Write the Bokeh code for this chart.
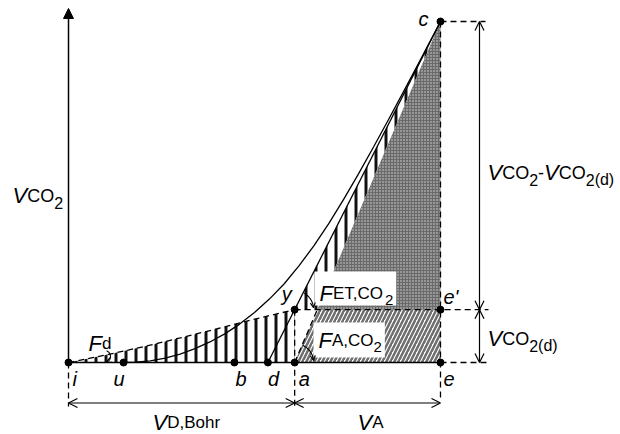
import numpy as np
from bokeh.plotting import figure
from bokeh.models import Range1d, Arrow, OpenHead, NormalHead
from bokeh.core.properties import value
from bokeh.embed import file_html
from bokeh.resources import INLINE

# ---- data (volume units on x, CO2 units on y) ----
pt_names = ["i", "u", "b", "d", "a", "e", "y", "e'", "c"]
pt_x = [0.0, 14.8, 44.6, 53.6, 60.8, 100.0, 60.8, 100.0, 100.0]
pt_y = [0.0, 0.0, 0.0, 0.0, 0.0, 0.0, 15.5, 15.5, 100.0]

# expired CO2 volume curve (from u to c)
co2_x = [14.8, 18, 22, 26, 30, 34, 38, 42, 46, 50, 54, 58, 62, 66, 70, 74, 78, 82, 86, 90, 94, 100]
co2_y = [0, 0.1, 0.49, 1.29, 2.47, 4.06, 6.03, 8.41, 11.27, 14.64, 18.6, 23.1, 28.4, 34.3, 40.8,
         47.9, 55.4, 63.2, 71.2, 79.3, 87.5, 100]

# dead-space CO2 curve (dashed, from i to y)
ds_x = [0, 10, 20, 30, 40, 50, 60.8]
ds_y = [0, 2.2, 4.6, 7.2, 9.9, 12.7, 15.5]

P = {n: (x, y) for n, x, y in zip(pt_names, pt_x, pt_y)}

# ---- canvas / scales ----
W, H = 620, 434
XMIN, XMAX = -18.28, 148.39
YMIN, YMAX = -21.11, 106.16
SX = W / (XMAX - XMIN)
SY = H / (YMAX - YMIN)
TEXT_DY = -7  # correction of rendered text baseline


def px2x(px):
    return XMIN + px / SX


def py2y(py):
    return YMAX - py / SY


p = figure(width=W, height=H, x_range=Range1d(XMIN, XMAX), y_range=Range1d(YMIN, YMAX),
           output_backend="svg", toolbar_location=None, min_border=0)
p.axis.visible = False
p.grid.visible = False
p.outline_line_color = None
p.background_fill_color = "white"

xa, ya = P["a"]
xc, yc = P["c"]
xd, yd = P["d"]
xy_, yy_ = P["y"]
xe, ye = P["e"]
xe2, ye2 = P["e'"]
xq = xa + (yy_ - ya) * (xc - xa) / (yc - ya)

# ---- filled regions ----
p.patch(ds_x + [xa, 0], ds_y + [0, 0], fill_color=None, line_color=None,
        hatch_pattern="|", hatch_scale=10, hatch_weight=3, hatch_color="#111111")
p.patch([xy_, xc, xq], [yy_, yc, yy_], fill_color=None, line_color=None,
        hatch_pattern="|", hatch_scale=10, hatch_weight=3, hatch_color="#111111")
p.patch([xq, xc, xe2], [yy_, yc, ye2], fill_color="#6a6a6a", line_color=None,
        hatch_pattern=".", hatch_scale=3, hatch_weight=1.5, hatch_color="#d8d8d8")
p.patch([xa, xe, xe2, xq], [ya, ye, ye2, yy_], fill_color=None, line_color=None,
        hatch_pattern="/", hatch_scale=8, hatch_weight=2.5, hatch_color="#6e6e6e")

# ---- rich text helper ----
ADV = {'V': .667, 'C': .722, 'O': .778, '2': .556, '-': .333, '(': .333, ')': .333, 'd': .556,
       'D': .722, ',': .278, 'B': .667, 'o': .556, 'h': .556, 'r': .333, 'A': .667, 'E': .667,
       'T': .611, 'F': .611}
FONT = value("Liberation Sans")


def rich(x_px, base_px, segs, draw=True):
    cur = x_px
    for txt, style, size, dy in segs:
        if draw:
            p.text(x=[px2x(cur)], y=[py2y(base_px + dy + TEXT_DY)], text=[txt], text_font=FONT,
                   text_font_style=style, text_font_size=f"{size}px",
                   text_baseline="alphabetic", text_align="left", text_color="black")
        cur += sum(ADV.get(ch, .556) for ch in txt) * size
    return cur - x_px


Vi = ("V", "italic", 22, 0)
Fi = ("F", "italic", 22, 0)
CO = ("CO", "normal", 18, 0)
S2 = ("2", "normal", 16, 7)

for (x0, b0, segs, t, b) in [(319, 300, [Fi, ("ET,CO", "normal", 17, 0), ("2", "normal", 15, 6)], 29, 5),
                             (318, 347, [Fi, ("A,CO", "normal", 17, 0), ("2", "normal", 15, 6)], 25, 10)]:
    w = rich(x0, b0, segs, draw=False)
    p.quad(left=[px2x(x0 - 5)], right=[px2x(x0 + w + 3)], top=[py2y(b0 - t)],
           bottom=[py2y(b0 + b)], fill_color="white", line_color=None)

# ---- lines ----
LW = 1.3
DASH = "6 4"
p.line(co2_x, co2_y, line_color="black", line_width=LW)
p.line([xd, xc], [yd, yc], line_color="black", line_width=LW)
p.line(ds_x, ds_y, line_color="black", line_width=LW, line_dash=DASH)
p.line([xa, xq], [ya, yy_], line_color="black", line_width=LW, line_dash=DASH)
p.line([0, xe], [0, 0], line_color="black", line_width=1.5)
ext_r = px2x(488)
dim_y = py2y(402.5)
p.line([xy_, ext_r], [yy_, yy_], line_color="black", line_width=LW, line_dash=DASH)
p.line([xc, px2x(485)], [yc, yc], line_color="black", line_width=LW, line_dash=DASH)
p.line([xe, ext_r], [ye, ye], line_color="black", line_width=LW, line_dash=DASH)
p.line([xc, xc], [yc, py2y(398)], line_color="black", line_width=LW, line_dash=DASH)
p.line([xa, xa], [yy_, py2y(406)], line_color="black", line_width=LW, line_dash=DASH)
p.line([0, 0], [0, py2y(406)], line_color="black", line_width=LW, line_dash=DASH)

p.add_layout(Arrow(x_start=0, y_start=0, x_end=0, y_end=py2y(8),
                   end=NormalHead(size=10, fill_color="black", line_color="black"),
                   line_color="black", line_width=1.5))


def dim(x0, y0, x1, y1):
    p.add_layout(Arrow(x_start=x0, y_start=y0, x_end=x1, y_end=y1,
                       start=OpenHead(size=9, line_width=1.2), end=OpenHead(size=9, line_width=1.2),
                       line_color="black", line_width=1.2))


dim(0, dim_y, xa, dim_y)
dim(xa, dim_y, xe, dim_y)
vx = px2x(479)
dim(vx, yc, vx, ye2)
dim(vx, ye2, vx, ye)


def arc(cx, cy, r_px, a0, a1, head=True):
    th = np.radians(np.linspace(a0, a1, 24))
    xs = cx + r_px * np.cos(th) / SX
    ys = cy + r_px * np.sin(th) / SY
    p.line(xs, ys, line_color="black", line_width=1.1)
    if head:
        p.add_layout(Arrow(x_start=xs[-3], y_start=ys[-3], x_end=xs[-1], y_end=ys[-1],
                           end=OpenHead(size=5, line_width=1.1), line_color="black", line_width=1.1))


arc(xy_, yy_, 19, 60, 6)
arc(xa, ya, 19, 64, 6)
arc(px2x(104), py2y(356), 6, 70, -70)

p.scatter(pt_x, pt_y, size=7, color="black")

lab_off = {"i": (4, 23), "u": (-10, 23), "b": (1, 23), "d": (0, 23), "a": (4, 23), "e": (3, 23),
           "y": (-13, -9), "e'": (3, -6), "c": (-22, 4)}
for n, x, y in zip(pt_names, pt_x, pt_y):
    ox, oy = lab_off[n]
    p.text(x=[x], y=[y], text=[n], x_offset=ox, y_offset=oy + TEXT_DY, text_font=FONT,
           text_font_style="italic", text_font_size="20px", text_baseline="alphabetic",
           text_align="left", text_color="black")

rich(12, 202, [Vi, CO, S2])
rich(152, 429, [Vi, ("D,Bohr", "normal", 17, 0)])
rich(357, 429, [Vi, ("A", "normal", 17, 0)])
rich(88, 350, [Fi, ("d", "normal", 17, 0)])
rich(319, 300, [Fi, ("ET,CO", "normal", 17, 0), ("2", "normal", 15, 6)])
rich(318, 347, [Fi, ("A,CO", "normal", 17, 0), ("2", "normal", 15, 6)])
rich(487, 179, [Vi, CO, S2, ("-", "normal", 18, 0), Vi, CO, S2, ("(d)", "normal", 16, 7)])
rich(487, 345, [Vi, CO, S2, ("(d)", "normal", 16, 7)])

open("out.html", "w").write(file_html(p, INLINE))
